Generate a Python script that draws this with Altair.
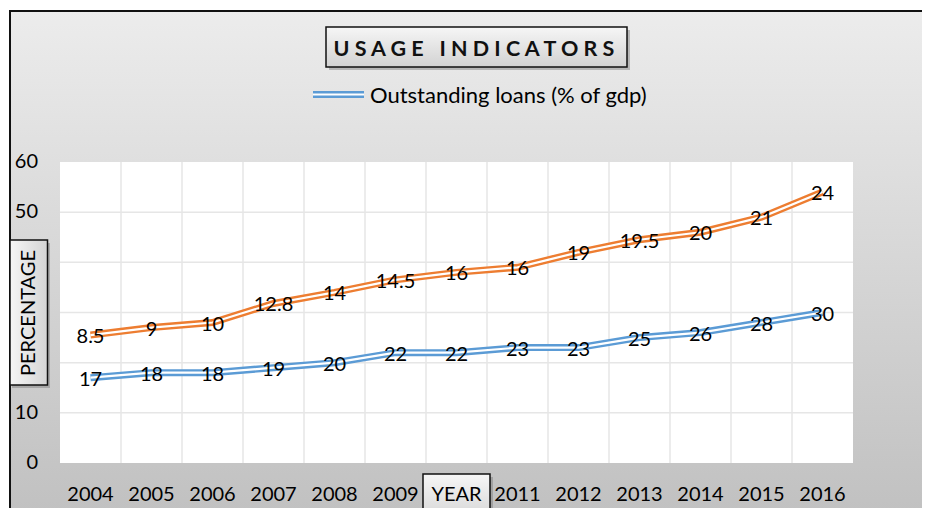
import altair as alt
import pandas as pd

# ---------------- data ----------------
years = ["2004", "2005", "2006", "2007", "2008", "2009", "2010",
         "2011", "2012", "2013", "2014", "2015", "2016"]
loans = [17, 18, 18, 19, 20, 22, 22, 23, 23, 25, 26, 28, 30]
second = [8.5, 9, 10, 12.8, 14, 14.5, 16, 16, 19, 19.5, 20, 21, 24]
series_names = ["Outstanding loans (% of gdp)", "Series 2"]
# tick labels that are visible (the others sit under the axis-title boxes)
y_ticks = [0, 10, 50, 60]
x_ticks = [y for y in years if y != "2010"]
grid_values = [10, 20, 30, 40, 50]
title_text = "U S A G E\u00a0\u00a0 I N D I C A T O R S"
legend_text = "Outstanding loans (% of gdp)"

rows = []
for i, yr in enumerate(years):
    rows.append({"year": yr, "series": series_names[0], "value": loans[i],
                 "label": f"{loans[i]:g}", "order": 0})
    rows.append({"year": yr, "series": series_names[1], "value": second[i],
                 "label": f"{second[i]:g}", "order": 1})
df = pd.DataFrame(rows)
one = pd.DataFrame({"k": [0]})

# ---------------- layout ----------------
W, H = 793, 301
FONT = "Lato"
BLUE = "#5b9bd5"
ORANGE = "#ed7d31"

xscale = alt.Scale(type="band", domain=years, paddingInner=0, paddingOuter=0)
yscale = alt.Scale(domain=[0, 60], nice=False, zero=True)


def grad(c0, c1, horizontal=False):
    return alt.Gradient(
        gradient="linear",
        stops=[alt.GradientStop(color=c0, offset=0), alt.GradientStop(color=c1, offset=1)],
        x1=0, y1=0, x2=1 if horizontal else 0, y2=0 if horizontal else 1,
    )


# background panel with border
bg = alt.Chart(one).mark_rect(
    fill=grad("#ececec", "#c0c0c0"), stroke="#111111", strokeWidth=2
).encode(x=alt.value(-50), x2=alt.value(W + 110), y=alt.value(-151), y2=alt.value(H + 60))

plot_bg = alt.Chart(one).mark_rect(fill="white").encode(
    x=alt.value(0), x2=alt.value(W), y=alt.value(0), y2=alt.value(H))

hgrid = alt.Chart(pd.DataFrame({"t": grid_values})).mark_rule(
    color="#e6e6e6", strokeWidth=1.5
).encode(y=alt.Y("t:Q", scale=yscale, axis=None), x=alt.value(0), x2=alt.value(W))

vgrid = alt.Chart(pd.DataFrame({"year": years[1:]})).mark_rule(
    color="#e6e6e6", strokeWidth=1.5
).encode(x=alt.X("year:O", scale=xscale, bandPosition=0, axis=None),
         y=alt.value(0), y2=alt.value(H))

# axis tick labels (drawn through the scales)
xlab = alt.Chart(pd.DataFrame({"year": x_ticks})).mark_text(
    font=FONT, fontSize=20, color="black", align="center", baseline="middle"
).encode(x=alt.X("year:O", scale=xscale, axis=None), y=alt.value(H + 32), text="year:N")

ylab = alt.Chart(pd.DataFrame({"t": y_ticks})).mark_text(
    font=FONT, fontSize=20, color="black", align="right", baseline="middle"
).encode(y=alt.Y("t:Q", scale=yscale, axis=None), x=alt.value(-22), text="t:Q")

base = alt.Chart(df).transform_stack(
    stack="value", groupby=["year"], as_=["y0", "y1"],
    sort=[alt.SortField("order", "ascending")]
)

lines = base.mark_line(strokeWidth=7).encode(
    x=alt.X("year:O", scale=xscale, axis=None),
    y=alt.Y("y1:Q", scale=yscale, axis=None),
    color=alt.Color("series:N", scale=alt.Scale(domain=series_names, range=[BLUE, ORANGE]),
                    legend=None),
)
inner = base.mark_line(strokeWidth=2.2, color="white").encode(
    x=alt.X("year:O", scale=xscale, axis=None),
    y=alt.Y("y1:Q", scale=yscale, axis=None),
    detail="series:N",
)
labels = base.mark_text(fontSize=20, font=FONT, color="black", dy=2,
                        align="center", baseline="middle").encode(
    x=alt.X("year:O", scale=xscale, axis=None),
    y=alt.Y("y1:Q", scale=yscale, axis=None),
    text="label:N",
)

# title box
t_shadow = alt.Chart(one).mark_rect(fill="#7a7a7a", opacity=0.45).encode(
    x=alt.value(269), x2=alt.value(570), y=alt.value(-132), y2=alt.value(-92))
t_box = alt.Chart(one).mark_rect(fill=grad("#f6f6f6", "#d2d2d2"), stroke="#111111",
                                 strokeWidth=1.5).encode(
    x=alt.value(266), x2=alt.value(567), y=alt.value(-135), y2=alt.value(-95))
t_text = alt.Chart(one).mark_text(text=title_text, font=FONT, fontSize=21.5, fontWeight="bold",
                                  color="#111111", align="center", baseline="middle").encode(
    x=alt.value(414), y=alt.value(-112.5))

# legend (single entry)
leg_line = alt.Chart(one).mark_rule(color=BLUE, strokeWidth=7).encode(
    x=alt.value(253), x2=alt.value(304), y=alt.value(-67.5))
leg_inner = alt.Chart(one).mark_rule(color="white", strokeWidth=2.2).encode(
    x=alt.value(253), x2=alt.value(304), y=alt.value(-67.5))
leg_text = alt.Chart(one).mark_text(text=legend_text, font=FONT, fontSize=22, color="black",
                                    align="left", baseline="middle").encode(
    x=alt.value(310), y=alt.value(-66))

# y title box
p_shadow = alt.Chart(one).mark_rect(fill="#7a7a7a", opacity=0.45).encode(
    x=alt.value(-48), x2=alt.value(-10), y=alt.value(81), y2=alt.value(226))
p_box = alt.Chart(one).mark_rect(fill=grad("#f6f6f6", "#d4d4d4", horizontal=True),
                                 stroke="#111111", strokeWidth=1.5).encode(
    x=alt.value(-50), x2=alt.value(-12.5), y=alt.value(78), y2=alt.value(223))
p_text = alt.Chart(one).mark_text(text="PERCENTAGE", font=FONT, fontSize=20, color="black",
                                  angle=270, align="center", baseline="middle").encode(
    x=alt.value(-31), y=alt.value(151))

# x title box
y_shadow = alt.Chart(one).mark_rect(fill="#7a7a7a", opacity=0.45).encode(
    x=alt.value(366), x2=alt.value(433), y=alt.value(315), y2=alt.value(360))
y_box = alt.Chart(one).mark_rect(fill=grad("#f6f6f6", "#d4d4d4"), stroke="#111111",
                                 strokeWidth=1.5).encode(
    x=alt.value(363), x2=alt.value(430), y=alt.value(312), y2=alt.value(360))
y_text = alt.Chart(one).mark_text(text="YEAR", font=FONT, fontSize=20, color="black",
                                  align="center", baseline="middle").encode(
    x=alt.value(396.5), y=alt.value(333))

chart = alt.layer(
    bg, plot_bg, hgrid, vgrid, xlab, ylab, lines, inner, labels,
    t_shadow, t_box, t_text, leg_line, leg_inner, leg_text,
    p_shadow, p_box, p_text, y_shadow, y_box, y_text,
).properties(
    width=W, height=H,
    padding={"left": 52, "top": 154, "right": 69, "bottom": 45},
    autosize=alt.AutoSizeParams(type="none"),
    background="white",
).configure_view(stroke=None)

chart.save("out.html", embed_options={"renderer": "svg", "actions": False})
